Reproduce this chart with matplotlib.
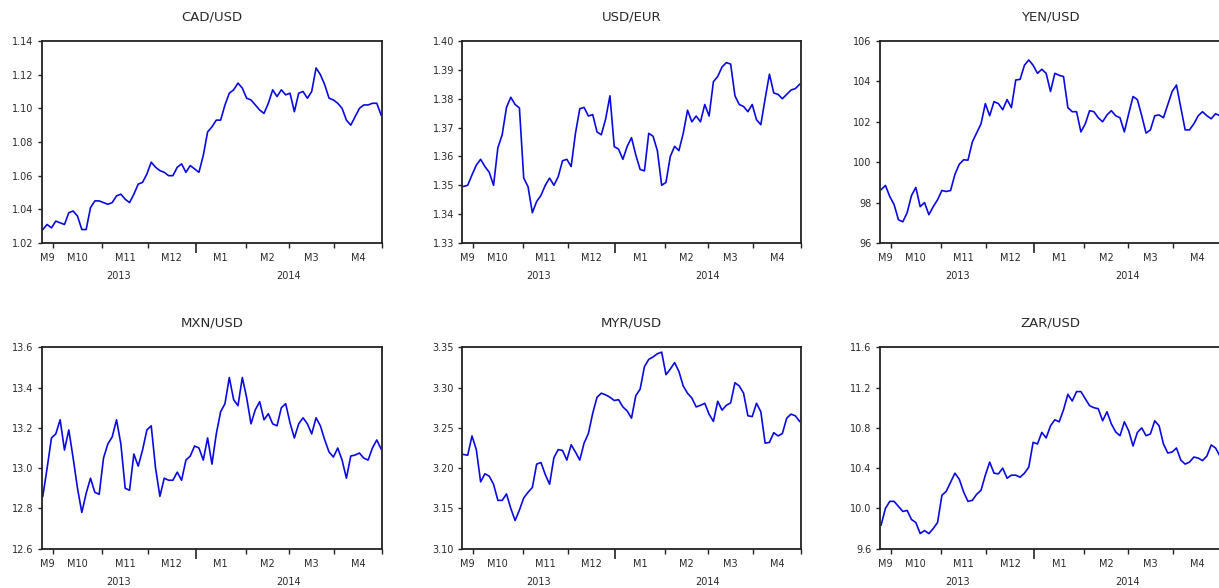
import matplotlib
matplotlib.use("Agg")
import matplotlib.pyplot as plt
from matplotlib.ticker import FixedLocator
import numpy as np
import pandas as pd

plt.rcParams['font.family'] = ['DejaVu Sans']

# business days, Sep 24 2013 - Apr 30 2014; values read every 2nd day
dates = pd.bdate_range('2013-09-24', '2014-04-30')
obs = np.arange(len(dates))[::2]

cad_usd = [1.028, 1.031, 1.029, 1.033, 1.032, 1.031, 1.038, 1.039, 1.036, 1.028,
           1.028, 1.041, 1.045, 1.045, 1.044, 1.043, 1.044, 1.048, 1.049, 1.046,
           1.044, 1.049, 1.055, 1.056, 1.061, 1.068, 1.065, 1.063, 1.062, 1.060,
           1.060, 1.065, 1.067, 1.062, 1.066, 1.064, 1.062, 1.072, 1.086, 1.089,
           1.093, 1.093, 1.102, 1.109, 1.111, 1.115, 1.112, 1.106, 1.105, 1.102,
           1.099, 1.097, 1.103, 1.111, 1.107, 1.111, 1.108, 1.109, 1.098, 1.109,
           1.110, 1.106, 1.110, 1.124, 1.120, 1.114, 1.106, 1.105, 1.103, 1.100,
           1.093, 1.090, 1.095, 1.100, 1.102, 1.102, 1.103, 1.103, 1.096]

usd_eur = [1.3496, 1.3500, 1.3536, 1.3570, 1.3590, 1.3565, 1.3545, 1.3500, 1.3630, 1.3675,
           1.3770, 1.3805, 1.3780, 1.3768, 1.3525, 1.3495, 1.3405, 1.3444, 1.3465, 1.3500,
           1.3525, 1.3500, 1.3530, 1.3585, 1.3590, 1.3565, 1.3680, 1.3765, 1.3770, 1.3740,
           1.3745, 1.3685, 1.3675, 1.3730, 1.3810, 1.3634, 1.3625, 1.3590, 1.3635, 1.3665,
           1.3605, 1.3555, 1.3550, 1.3680, 1.3670, 1.3620, 1.3500, 1.3510, 1.3600, 1.3635,
           1.3620, 1.3680, 1.3760, 1.3720, 1.3740, 1.3720, 1.3780, 1.3740, 1.3859, 1.3877,
           1.3910, 1.3925, 1.3920, 1.3810, 1.3780, 1.3773, 1.3755, 1.3780, 1.3727, 1.3710,
           1.3800, 1.3885, 1.3820, 1.3815, 1.3800, 1.3815, 1.3830, 1.3835, 1.3850]

yen_usd = [98.64, 98.85, 98.30, 97.90, 97.15, 97.05, 97.50, 98.35, 98.75, 97.80,
           98.00, 97.40, 97.80, 98.14, 98.60, 98.55, 98.60, 99.40, 99.90, 100.12,
           100.10, 101.00, 101.45, 101.90, 102.90, 102.30, 103.00, 102.90, 102.60, 103.10,
           102.70, 104.07, 104.10, 104.80, 105.06, 104.80, 104.40, 104.60, 104.40, 103.50,
           104.40, 104.30, 104.24, 102.70, 102.50, 102.50, 101.50, 101.90, 102.55, 102.50,
           102.20, 102.00, 102.34, 102.55, 102.30, 102.20, 101.50, 102.40, 103.25, 103.10,
           102.30, 101.44, 101.60, 102.30, 102.34, 102.20, 102.85, 103.50, 103.82, 102.70,
           101.60, 101.60, 101.90, 102.30, 102.50, 102.30, 102.15, 102.40, 102.30]

mxn_usd = [12.86, 13.00, 13.15, 13.17, 13.24, 13.09, 13.19, 13.05, 12.90, 12.78,
           12.875, 12.95, 12.88, 12.87, 13.05, 13.12, 13.155, 13.24, 13.12, 12.90,
           12.89, 13.07, 13.01, 13.09, 13.19, 13.21, 13.00, 12.86, 12.95, 12.94,
           12.94, 12.98, 12.94, 13.04, 13.06, 13.11, 13.10, 13.04, 13.15, 13.02,
           13.17, 13.28, 13.32, 13.45, 13.34, 13.31, 13.45, 13.35, 13.22, 13.29,
           13.33, 13.24, 13.27, 13.22, 13.21, 13.30, 13.32, 13.225, 13.15, 13.22,
           13.25, 13.22, 13.17, 13.25, 13.21, 13.14, 13.08, 13.055, 13.10, 13.04,
           12.95, 13.06, 13.065, 13.075, 13.05, 13.04, 13.10, 13.14, 13.095]

myr_usd = [3.217, 3.216, 3.240, 3.223, 3.183, 3.193, 3.190, 3.180, 3.160, 3.160,
           3.168, 3.150, 3.135, 3.148, 3.163, 3.170, 3.176, 3.205, 3.207, 3.192,
           3.180, 3.213, 3.223, 3.222, 3.210, 3.229, 3.220, 3.210, 3.231, 3.243,
           3.268, 3.288, 3.293, 3.291, 3.288, 3.284, 3.285, 3.276, 3.271, 3.262,
           3.290, 3.298, 3.326, 3.335, 3.338, 3.342, 3.344, 3.316, 3.323, 3.331,
           3.320, 3.302, 3.293, 3.287, 3.276, 3.278, 3.2805, 3.267, 3.258, 3.283,
           3.272, 3.278, 3.281, 3.306, 3.302, 3.293, 3.265, 3.264, 3.2805, 3.270,
           3.231, 3.232, 3.244, 3.240, 3.243, 3.262, 3.267, 3.265, 3.258]

zar_usd = [9.834, 10.00, 10.07, 10.07, 10.02, 9.97, 9.98, 9.89, 9.86, 9.751,
           9.78, 9.75, 9.80, 9.86, 10.13, 10.17, 10.26, 10.35, 10.29, 10.163,
           10.07, 10.08, 10.14, 10.18, 10.33, 10.46, 10.35, 10.343, 10.40, 10.30,
           10.33, 10.33, 10.31, 10.35, 10.41, 10.656, 10.64, 10.755, 10.70, 10.82,
           10.88, 10.86, 10.98, 11.133, 11.067, 11.16, 11.16, 11.09, 11.02, 11.00,
           10.99, 10.87, 10.96, 10.84, 10.76, 10.722, 10.86, 10.77, 10.62, 10.755,
           10.80, 10.722, 10.74, 10.87, 10.82, 10.64, 10.55, 10.56, 10.60, 10.48,
           10.44, 10.46, 10.51, 10.50, 10.475, 10.52, 10.63, 10.60, 10.52]

titles = ['CAD/USD', 'USD/EUR', 'YEN/USD', 'MXN/USD', 'MYR/USD', 'ZAR/USD']
series = [cad_usd, usd_eur, yen_usd, mxn_usd, myr_usd, zar_usd]
y_limits = [(1.02, 1.14), (1.33, 1.40), (96, 106), (12.6, 13.6), (3.10, 3.35), (9.6, 11.6)]
y_steps = [0.02, 0.01, 2, 0.2, 0.05, 0.4]
y_formats = ['{:.2f}', '{:.2f}', '{:.0f}', '{:.1f}', '{:.2f}', '{:.1f}']

# month segments in observation index
months = dates.to_period('M')
month_starts = [i for i in range(1, len(dates)) if months[i] != months[i - 1]]
edges = [0] + month_starts + [len(dates)]
month_labels = ['M%d' % dates[e].month for e in edges[:-1]]
year_start = [i for i in month_starts if dates[i].month == 1][0]

W, H = 1219, 588
fig = plt.figure(figsize=(W / 100, H / 100), dpi=100)

col_px = [(41.7, 340.5), (462.3, 338.4), (880, 341)]
row_px = [(41, 243), (347.3, 548.7)]

text_col = '#2a2a2a'
small = 7

for n in range(6):
    r, c = divmod(n, 3)
    left, width = col_px[c]
    top, bottom = row_px[r]
    ax = fig.add_axes([left / W, (H - bottom) / H, width / W, (bottom - top) / H])

    ax.plot(obs, series[n], color='#0a0ae0', lw=1.2)

    ax.set_xlim(-0.5, len(dates) - 0.5)
    lo, hi = y_limits[n]
    ax.set_ylim(lo, hi)
    yt = np.arange(lo, hi + y_steps[n] / 2, y_steps[n])
    ax.set_yticks(yt)
    ax.set_yticklabels([y_formats[n].format(v) for v in yt])

    ax.xaxis.set_major_locator(FixedLocator([m - 0.5 for m in month_starts if m != year_start]
                                            + [len(dates) - 0.5]))
    ax.xaxis.set_minor_locator(FixedLocator([year_start - 0.5]))
    ax.set_xticklabels([])
    ax.tick_params(axis='x', which='major', direction='out', length=3.5, width=1, color='#222222')
    ax.tick_params(axis='x', which='minor', direction='out', length=7, width=1.2, color='#222222')
    ax.tick_params(axis='y', direction='out', length=3, width=1, color='#222222',
                   labelsize=small, labelcolor=text_col, pad=3)

    for s in ax.spines.values():
        s.set_linewidth(1.3)
        s.set_color('#222222')

    for a, b, lab in zip(edges[:-1], edges[1:], month_labels):
        ax.annotate(lab, xy=((a + b - 1) / 2, 0), xycoords=('data', 'axes fraction'),
                    xytext=(0, -15), textcoords='offset pixels',
                    ha='center', va='center', fontsize=small, color=text_col)
    ax.annotate('2013', xy=((year_start - 1) / 2, 0), xycoords=('data', 'axes fraction'),
                xytext=(0, -33), textcoords='offset pixels',
                ha='center', va='center', fontsize=small, color=text_col)
    ax.annotate('2014', xy=((year_start + len(dates) - 1) / 2, 0), xycoords=('data', 'axes fraction'),
                xytext=(0, -33), textcoords='offset pixels',
                ha='center', va='center', fontsize=small, color=text_col)

    ax.annotate(titles[n], xy=(0.5, 1), xycoords='axes fraction',
                xytext=(0, 24), textcoords='offset pixels',
                ha='center', va='center', fontsize=9.5, color=text_col)

fig.savefig('out.png', dpi=100)
